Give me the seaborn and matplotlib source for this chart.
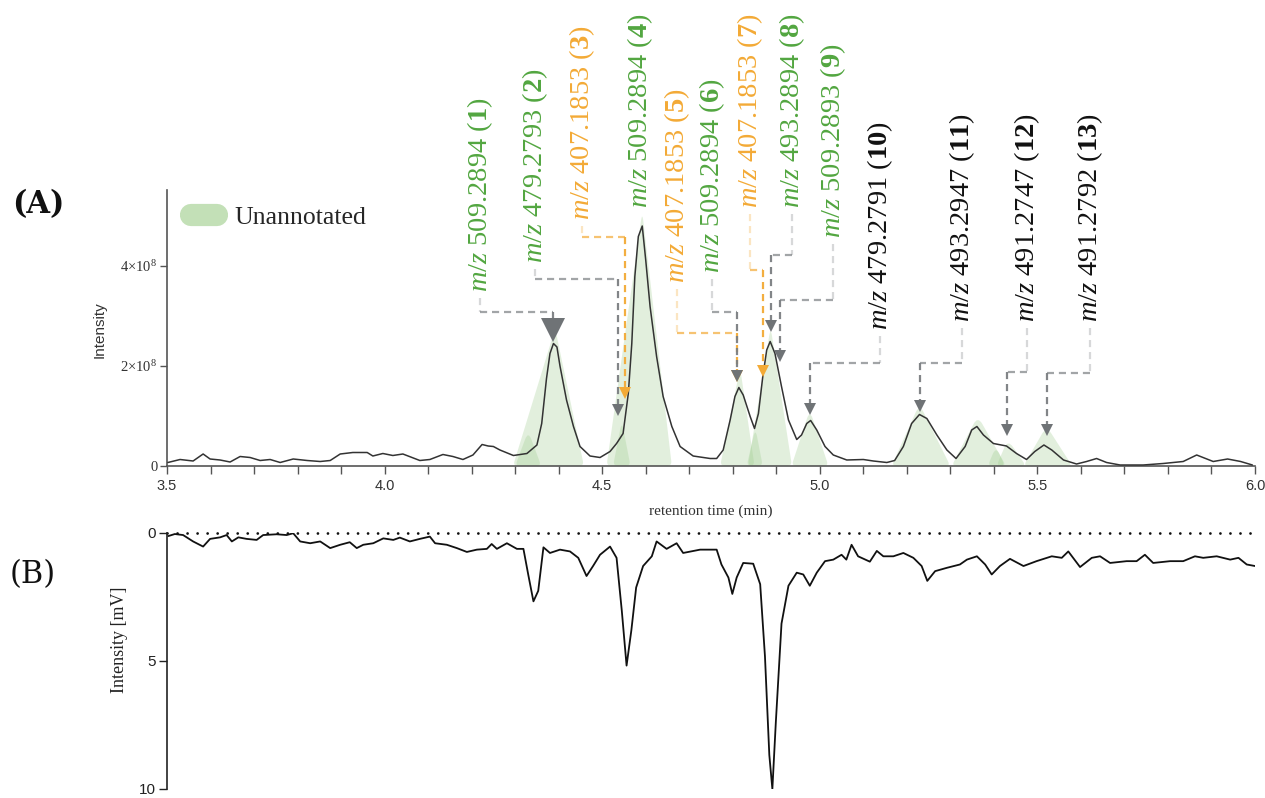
import matplotlib
matplotlib.use("Agg")
import matplotlib.pyplot as plt
import seaborn as sns
import numpy as np
import pandas as pd
from matplotlib.lines import Line2D
from matplotlib.path import Path
from matplotlib.patches import PathPatch
from matplotlib.ticker import MultipleLocator

# ------------------------------------------------------------------ data
# (A) total ion chromatogram, intensity in units of 1e8
ms_time = [3.502, 3.530, 3.560, 3.583, 3.599, 3.622, 3.645, 3.668, 3.691, 3.714,
           3.737, 3.760, 3.790, 3.822, 3.852, 3.875, 3.898, 3.927, 3.960, 3.973,
           3.996, 4.019, 4.042, 4.081, 4.104, 4.134, 4.157, 4.180, 4.203, 4.224,
           4.238, 4.250, 4.265, 4.296, 4.327, 4.350, 4.361, 4.372, 4.380, 4.388,
           4.396, 4.403, 4.418, 4.434, 4.449, 4.472, 4.495, 4.518, 4.533, 4.548,
           4.560, 4.568, 4.575, 4.583, 4.592, 4.600, 4.610, 4.625, 4.640, 4.660,
           4.679, 4.709, 4.748, 4.763, 4.778, 4.794, 4.805, 4.814, 4.824, 4.840,
           4.850, 4.859, 4.869, 4.878, 4.886, 4.897, 4.912, 4.928, 4.947, 4.958,
           4.970, 4.979, 4.993, 5.012, 5.031, 5.062, 5.100, 5.123, 5.154, 5.172,
           5.192, 5.211, 5.229, 5.246, 5.269, 5.292, 5.313, 5.334, 5.349, 5.361,
           5.376, 5.399, 5.429, 5.452, 5.475, 5.494, 5.515, 5.533, 5.560, 5.590,
           5.613, 5.636, 5.659, 5.690, 5.743, 5.789, 5.835, 5.866, 5.904, 5.937,
           5.967, 5.994]
ms_intensity_e8 = [0.07, 0.13, 0.10, 0.24, 0.14, 0.12, 0.08, 0.19, 0.17, 0.11,
                   0.13, 0.07, 0.14, 0.11, 0.09, 0.11, 0.24, 0.27, 0.27, 0.20,
                   0.25, 0.21, 0.24, 0.11, 0.13, 0.23, 0.19, 0.13, 0.22, 0.43,
                   0.40, 0.39, 0.32, 0.21, 0.25, 0.42, 0.85, 1.75, 2.25, 2.45,
                   2.38, 2.00, 1.32, 0.79, 0.39, 0.20, 0.17, 0.29, 0.45, 0.65,
                   1.45, 2.45, 3.79, 4.59, 4.80, 4.12, 3.19, 2.19, 1.39, 0.79,
                   0.39, 0.20, 0.15, 0.15, 0.32, 0.92, 1.39, 1.57, 1.42, 0.99,
                   0.75, 1.05, 1.79, 2.32, 2.49, 2.25, 1.59, 0.92, 0.53, 0.62,
                   0.85, 0.91, 0.72, 0.39, 0.22, 0.12, 0.13, 0.10, 0.07, 0.11,
                   0.39, 0.85, 1.03, 0.95, 0.62, 0.32, 0.15, 0.39, 0.72, 0.79,
                   0.62, 0.45, 0.40, 0.25, 0.13, 0.29, 0.42, 0.32, 0.12, 0.04,
                   0.09, 0.15, 0.07, 0.02, 0.02, 0.05, 0.09, 0.22, 0.09, 0.14,
                   0.09, 0.02]

# (B) UV trace, mV (plotted downward)
uv_time = [3.503, 3.518, 3.537, 3.560, 3.583, 3.599, 3.622, 3.637, 3.649, 3.664,
           3.683, 3.706, 3.721, 3.752, 3.775, 3.790, 3.806, 3.829, 3.852, 3.875,
           3.898, 3.920, 3.936, 3.951, 3.974, 3.997, 4.020, 4.035, 4.058, 4.081,
           4.104, 4.116, 4.143, 4.166, 4.189, 4.212, 4.235, 4.246, 4.258, 4.281,
           4.304, 4.319, 4.330, 4.342, 4.353, 4.365, 4.380, 4.403, 4.426, 4.445,
           4.464, 4.479, 4.495, 4.518, 4.533, 4.545, 4.556, 4.567, 4.578, 4.594,
           4.614, 4.625, 4.648, 4.671, 4.686, 4.725, 4.763, 4.774, 4.790, 4.799,
           4.809, 4.824, 4.847, 4.863, 4.874, 4.884, 4.891, 4.899, 4.912, 4.928,
           4.947, 4.962, 4.977, 4.993, 5.012, 5.031, 5.050, 5.061, 5.073, 5.088,
           5.115, 5.131, 5.146, 5.169, 5.192, 5.215, 5.234, 5.247, 5.265, 5.292,
           5.322, 5.338, 5.361, 5.380, 5.395, 5.414, 5.437, 5.468, 5.498, 5.533,
           5.556, 5.571, 5.598, 5.625, 5.644, 5.667, 5.705, 5.728, 5.747, 5.766,
           5.805, 5.835, 5.862, 5.881, 5.912, 5.943, 5.962, 5.981, 6.000]
uv_mv = [0.12, 0.04, 0.08, 0.33, 0.53, 0.23, 0.17, 0.08, 0.33, 0.17,
         0.23, 0.27, 0.08, 0.05, 0.08, 0.01, 0.33, 0.40, 0.33, 0.59,
         0.46, 0.36, 0.59, 0.46, 0.40, 0.21, 0.27, 0.18, 0.33, 0.23,
         0.14, 0.40, 0.46, 0.59, 0.74, 0.65, 0.62, 0.43, 0.62, 0.40,
         0.62, 0.62, 1.62, 2.67, 2.26, 0.56, 0.78, 0.65, 0.72, 0.97,
         1.68, 1.29, 0.85, 0.53, 0.97, 3.03, 5.18, 3.80, 2.13, 1.29,
         0.91, 0.33, 0.62, 0.40, 0.78, 0.65, 0.65, 1.23, 1.74, 2.38,
         1.74, 1.17, 1.20, 2.00, 4.82, 8.67, 10.0, 7.38, 3.54, 2.06,
         1.55, 1.62, 2.06, 1.55, 1.10, 1.04, 0.85, 1.04, 0.46, 0.91,
         1.12, 0.70, 0.91, 0.91, 0.78, 0.97, 1.29, 1.87, 1.49, 1.36,
         1.23, 1.04, 0.91, 1.23, 1.62, 1.29, 1.01, 1.29, 1.10, 0.91,
         0.97, 0.72, 1.33, 0.97, 0.91, 1.17, 1.10, 1.10, 0.85, 1.17,
         1.10, 1.10, 0.91, 0.97, 0.91, 1.04, 0.97, 1.23, 1.29]

# shaded (unannotated) peak envelopes
shade_left = [4.295, 4.300, 4.510, 4.525, 4.771, 4.832, 4.835, 4.935, 5.165, 5.303, 5.386, 5.406, 5.468]
shade_apex = [4.392, 4.330, 4.592, 4.545, 4.817, 4.852, 4.887, 4.977, 5.229, 5.363, 5.405, 5.432, 5.521]
shade_right = [4.458, 4.360, 4.660, 4.565, 4.850, 4.869, 4.936, 5.020, 5.300, 5.428, 5.425, 5.474, 5.580]
shade_height_e8 = [2.75, 0.70, 5.08, 0.90, 1.96, 0.76, 2.78, 1.12, 1.24, 1.00, 0.40, 0.53, 0.80]

# annotated features
peak_ids = [1, 2, 3, 4, 5, 6, 7, 8, 9, 10, 11, 12, 13]
peak_mz = ["509.2894", "479.2793", "407.1853", "509.2894", "407.1853", "509.2894",
           "407.1853", "493.2894", "509.2893", "479.2791", "493.2947", "491.2747", "491.2792"]
peak_class = ["green", "green", "orange", "green", "orange", "green", "orange",
              "green", "green", "black", "black", "black", "black"]

x_ticks = [3.5, 4.0, 4.5, 5.0, 5.5, 6.0]
x_tick_labels = ["3.5", "4.0", "4.5", "5.0", "5.5", "6.0"]
y_ticks_e8 = [0, 2, 4]
y_tick_labels = ["0", r"$2{\times}10^{8}$", r"$4{\times}10^{8}$"]
uv_ticks = [0, 5, 10]
uv_tick_labels = ["0", "5", "10"]
legend_label = "Unannotated"

# ------------------------------------------------------------------ layout of annotations
lab_x = [4.219, 4.346, 4.454, 4.587, 4.672, 4.752, 4.840, 4.936, 5.030, 5.138, 5.327, 5.476, 5.621]
lab_y = [3.48, 4.06, 4.92, 5.16, 3.66, 3.86, 5.16, 5.16, 4.56, 2.72, 2.88, 2.88, 2.88]
elbow_y = [3.08, 3.74, 4.58, None, 2.66, 3.08, 3.92, 4.22, 3.32, 2.06, 2.06, 1.88, 1.86]
tip_x = [4.387, 4.536, 4.552, None, 4.810, 4.810, 4.870, 4.888, 4.909, 4.977, 5.230, 5.430, 5.522]
tip_y = [2.72, 1.12, 1.46, None, 1.80, 1.80, 1.90, 2.80, 2.20, 1.14, 1.20, 0.72, 0.72]
tip_size = [17, 8, 8, 0, 8, 8, 8, 8, 8, 8, 8, 8, 8]

# ------------------------------------------------------------------ style
sns.set_theme(style="ticks")
plt.rcParams["font.family"] = ["Liberation Serif", "DejaVu Serif"]
plt.rcParams["mathtext.fontset"] = "custom"
plt.rcParams["mathtext.rm"] = "Liberation Serif"
plt.rcParams["mathtext.it"] = "Liberation Serif:italic"
plt.rcParams["mathtext.bf"] = "Liberation Serif:bold"

text_col = {"green": "#52a640", "orange": "#f3aa36", "black": "#111111"}
line_col = {"green": "#7b7f82", "orange": "#f3aa36", "black": "#7b7f82"}
shade_col = "#9fcd8f"
axis_col = "#555555"

W, H = 1265, 798
A_top, A_bot = 190, 466
B_top, B_bot = 533, 789
fig = plt.figure(figsize=(W / 100, H / 100), dpi=100)
axA = fig.add_axes([167 / W, (H - A_bot) / H, 1088 / W, (A_bot - A_top) / H])
axB = fig.add_axes([167 / W, (H - B_bot) / H, 1088 / W, (B_bot - B_top) / H])

xlimA = (3.5, 6.0)
ylimA = (0, 5.52)
sx = 1088 / (xlimA[1] - xlimA[0])          # px per minute
sy = (A_bot - A_top) / (ylimA[1] - ylimA[0])  # px per 1e8


def rounded_triangle(l, a, r, h, rad_top=9.0, rad_base=5.0):
    pts = [np.array([l, 0.0]), np.array([a, h]), np.array([r, 0.0])]
    rads = [rad_base, rad_top, rad_base]
    verts, codes = [], []
    n = 3
    for k in range(n):
        P = pts[k]
        Pp = pts[(k - 1) % n]
        Pn = pts[(k + 1) % n]
        def toward(Q, d):
            v = Q - P
            dpx = np.hypot(v[0] * sx, v[1] * sy)
            f = min(d / dpx, 0.45)
            return P + v * f
        p_in = toward(Pp, rads[k])
        p_out = toward(Pn, rads[k])
        if k == 0:
            verts.append(p_in); codes.append(Path.MOVETO)
        else:
            verts.append(p_in); codes.append(Path.LINETO)
        verts.extend([P, p_out]); codes.extend([Path.CURVE3, Path.CURVE3])
    verts.append(verts[0]); codes.append(Path.CLOSEPOLY)
    return Path(np.array(verts), codes)


# ------------------------------------------------------------------ panel A
for l, a, r, h in sorted(zip(shade_left, shade_apex, shade_right, shade_height_e8), key=lambda s: -s[3]):
    axA.add_patch(PathPatch(rounded_triangle(l, a, r, h), facecolor=shade_col, alpha=0.3,
                            lw=0, zorder=1))

dfA = pd.DataFrame({"t": ms_time, "I": ms_intensity_e8})
sns.lineplot(data=dfA, x="t", y="I", ax=axA, color="#333333", linewidth=1.1,
             estimator=None, sort=False, zorder=3)

dash = (0, (3.2, 2.2))
for i in range(len(peak_ids)):
    tc = text_col[peak_class[i]]
    label = r"$\mathit{m/z}$ " + peak_mz[i] + r" ($\mathbf{" + str(peak_ids[i]) + r"}$)"
    axA.text(lab_x[i], lab_y[i], label, rotation=90, ha="center", va="bottom",
             fontsize=20.5, color=tc, clip_on=False, zorder=6)
    if tip_x[i] is None:
        continue
    lc = line_col[peak_class[i]]
    x0, y0 = lab_x[i], lab_y[i] - 0.12
    axA.plot([x0, x0], [y0, elbow_y[i]], ls=dash, color=lc, alpha=0.3, lw=1.6, clip_on=False, zorder=4)
    axA.plot([x0, tip_x[i]], [elbow_y[i], elbow_y[i]], ls=dash, color=lc, alpha=0.7, lw=1.6, clip_on=False, zorder=4)
    axA.plot([tip_x[i], tip_x[i]], [elbow_y[i], tip_y[i]], ls=dash, color=lc, alpha=0.95, lw=1.6, clip_on=False, zorder=4)
    mc = "#6f7376" if peak_class[i] != "orange" else lc
    axA.plot([tip_x[i]], [tip_y[i]], marker="v", ms=tip_size[i], color=mc, mew=0, zorder=5, clip_on=False)

axA.set_xlim(*xlimA)
axA.set_ylim(*ylimA)
axA.set_xticks(x_ticks)
axA.set_xticklabels(x_tick_labels, family="Liberation Sans", fontsize=10.5, color="#333333")
axA.xaxis.set_minor_locator(MultipleLocator(0.1))
axA.set_yticks(y_ticks_e8)
axA.set_yticklabels(y_tick_labels, fontsize=10.5, color="#333333")
axA.tick_params(axis="x", which="both", length=6, width=1.0, color=axis_col, direction="out")
axA.tick_params(axis="y", length=5, width=1.0, color=axis_col, direction="out", pad=2)
sns.despine(ax=axA)
for s in ["left", "bottom"]:
    axA.spines[s].set_color(axis_col)
    axA.spines[s].set_linewidth(1.2)
axA.set_xlabel("")
axA.set_ylabel("")
fig.text(711 / W, 1 - 511 / H, "retention time (min)", ha="center", va="center", fontsize=11, color="#333333")
fig.text(100 / W, 1 - 330 / H, "Intensity", rotation=90, ha="center", va="center",
         family="Liberation Sans", fontsize=11, color="#333333")

handle = Line2D([0], [0], color="#c3e0b7", lw=16, solid_capstyle="round")
axA.legend([handle], [legend_label], loc="upper left", bbox_to_anchor=(0.001, 1.025),
           frameon=False, handlelength=1.0, handletextpad=0.7,
           prop={"family": "Liberation Serif", "size": 18.5})

# ------------------------------------------------------------------ panel B
dfB = pd.DataFrame({"t": uv_time, "mV": uv_mv})
sns.lineplot(data=dfB, x="t", y="mV", ax=axB, color="#111111", linewidth=1.3,
             estimator=None, sort=False)
axB.axhline(0, color="#111111", ls=(0, (0.01, 3.6)), lw=2.0, dash_capstyle="round",
            clip_on=False, zorder=2)
axB.set_xlim(*xlimA)
axB.set_ylim(10, 0)
axB.set_yticks(uv_ticks)
axB.set_yticklabels(uv_tick_labels, family="Liberation Sans", fontsize=11, color="#222222")
axB.set_xticks([])
axB.tick_params(axis="y", length=6, width=1.0, color="#222222", direction="out", pad=2)
for s in ["top", "right", "bottom"]:
    axB.spines[s].set_visible(False)
axB.spines["left"].set_color("#222222")
axB.spines["left"].set_linewidth(1.2)
axB.set_xlabel("")
axB.set_ylabel("")
fig.text(119 / W, 1 - 640 / H, "Intensity [mV]", rotation=90, ha="center", va="center",
         fontsize=13, color="#222222")

# panel letters
fig.text(12 / W, 1 - 205 / H, "(A)", fontsize=22, fontweight="bold", family="DejaVu Serif",
         ha="left", va="center", color="#111111")
fig.text(10 / W, 1 - 575 / H, "(B)", fontsize=22, fontweight="normal", family="DejaVu Serif",
         ha="left", va="center", color="#111111")

fig.savefig("out.png", dpi=100)
